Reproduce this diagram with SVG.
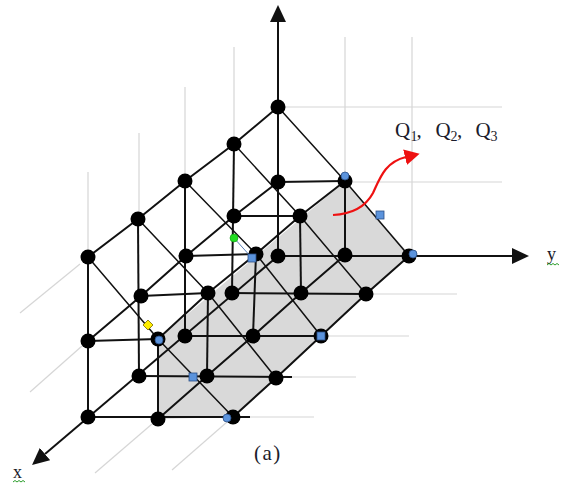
<svg xmlns="http://www.w3.org/2000/svg" width="568" height="486" viewBox="0 0 568 486">
<style>
.bg{fill:#ffffff}
.plane{fill:#d9d9d9;stroke:none}
.grid{stroke:#d6d6d6;stroke-width:1.2;fill:none}
.edge{stroke:#111;stroke-width:2;fill:none;stroke-linejoin:round}
.hyp{stroke:#111;stroke-width:1.5;fill:none;stroke-linejoin:round}
.axis{stroke:#111;stroke-width:2;fill:none}
.node{fill:#000}
.bc{fill:#5b93dc;stroke:#2b4f86;stroke-width:0.8}
.lbl{font-family:"Liberation Serif","Times New Roman",serif;fill:#1b1b2b}
.squig{stroke:#2a9d2a;stroke-width:1;fill:none}
</style>
<defs>
<marker id="ah" markerUnits="userSpaceOnUse" markerWidth="17" markerHeight="16" viewBox="0 0 17 16" refX="0" refY="8" orient="auto">
<path d="M0,0 L17,8 L0,16 Z" fill="#111"/>
</marker>
<marker id="rh" markerUnits="userSpaceOnUse" markerWidth="15" markerHeight="16" viewBox="0 0 15 16" refX="1" refY="8" orient="auto">
<path d="M0,0 L15,8 L0,16 Z" fill="#ee1111"/>
</marker>
</defs>
<rect class="bg" x="0" y="0" width="568" height="486"/>

<polygon id="plane" class="plane" points="345,181 410,255 233,417 158,419 158,339"/>

<g id="background-grid">
<line class="grid" x1="345" y1="37" x2="345" y2="181"/>
<line class="grid" x1="412" y1="37" x2="412" y2="255"/>
<line class="grid" x1="234" y1="47" x2="234" y2="144"/>
<line class="grid" x1="185" y1="87" x2="185" y2="181"/>
<line class="grid" x1="139" y1="133" x2="139" y2="219"/>
<line class="grid" x1="88" y1="172" x2="88" y2="257"/>
<line class="grid" x1="278" y1="107" x2="502" y2="107"/>
<line class="grid" x1="345" y1="182" x2="502" y2="182"/>
<line class="grid" x1="366" y1="294" x2="457" y2="294"/>
<line class="grid" x1="321" y1="336" x2="409" y2="336"/>
<line class="grid" x1="276" y1="377" x2="356" y2="377"/>
<line class="grid" x1="233" y1="417" x2="314" y2="417"/>
<line class="grid" x1="80" y1="264" x2="20" y2="313"/>
<line class="grid" x1="82" y1="346" x2="30" y2="392"/>
<line class="grid" x1="152" y1="424" x2="95" y2="473"/>
<line class="grid" x1="227" y1="422" x2="172" y2="470"/>
</g>

<g id="connectors">
<!-- axes -->
<line class="axis" x1="278" y1="256" x2="278" y2="22" marker-end="url(#ah)"/>
<line class="axis" x1="278" y1="256" x2="512" y2="256" marker-end="url(#ah)"/>
<line class="axis" x1="278" y1="256" x2="45" y2="454" marker-end="url(#ah)"/>
<!-- x-direction lines -->
<polyline class="edge" points="278,107 234,144 185,181 138,219 88,257"/>
<polyline class="edge" points="278,182 234,216 186,256 141,296 88,341"/>
<polyline class="edge" points="345,181 300,216 256,254 208,293 158,339"/>
<polyline class="edge" points="345,255 301,293 253,336 207,376 158,419"/>
<polyline class="edge" points="409,256 366,294 321,336 276,378 233,417"/>
<!-- vertical lines -->
<line class="edge" x1="234" y1="144" x2="232" y2="293"/>
<line class="edge" x1="185" y1="181" x2="185" y2="336"/>
<line class="edge" x1="138" y1="219" x2="139" y2="376"/>
<line class="edge" x1="88" y1="257" x2="88" y2="417"/>
<line class="edge" x1="345" y1="181" x2="345" y2="255"/>
<line class="edge" x1="300" y1="216" x2="301" y2="293"/>
<line class="edge" x1="256" y1="254" x2="253" y2="336"/>
<line class="edge" x1="208" y1="293" x2="207" y2="376"/>
<line class="edge" x1="158" y1="339" x2="158" y2="419"/>
<!-- horizontal lines -->
<line class="edge" x1="278" y1="182" x2="345" y2="181"/>
<line class="edge" x1="234" y1="216" x2="300" y2="216"/>
<line class="edge" x1="186" y1="256" x2="256" y2="254"/>
<line class="edge" x1="141" y1="296" x2="208" y2="293"/>
<line class="edge" x1="88" y1="341" x2="158" y2="339"/>
<line class="edge" x1="232" y1="293" x2="366" y2="294"/>
<line class="edge" x1="185" y1="336" x2="321" y2="336"/>
<line class="edge" x1="139" y1="376" x2="292" y2="377"/>
<line class="edge" x1="88" y1="417" x2="250" y2="417"/>
<!-- slanted (hypotenuse) lines -->
<polyline class="hyp" points="278,107 345,181 409,256"/>
<polyline class="hyp" points="234,144 300,216 366,294"/>
<polyline class="hyp" points="185,181 256,254 321,336"/>
<polyline class="hyp" points="138,219 208,293 276,378"/>
<polyline class="hyp" points="88,257 158,339 233,417"/>
<line x1="234" y1="238" x2="252" y2="258" stroke="#5a7fb5" stroke-width="1"/>
<!-- red arrow -->
<path d="M333,215 C352,214 366,206 373,193 C380,178 385,162 406,157" stroke="#ee1111" stroke-width="2.2" fill="none" marker-end="url(#rh)"/>
</g>

<g id="n0-0-2"><circle class="node" cx="278" cy="107" r="7.5"/></g>
<g id="n0-0-1"><circle class="node" cx="278" cy="182" r="7.5"/></g>
<g id="n0-1-1"><circle class="node" cx="345" cy="181" r="7.5"/></g>
<g id="n0-0-0"><circle class="node" cx="278" cy="256" r="7.5"/></g>
<g id="n0-1-0"><circle class="node" cx="345" cy="255" r="7.5"/></g>
<g id="n0-2-0"><circle class="node" cx="409" cy="256" r="7.5"/></g>
<g id="n1-0-2"><circle class="node" cx="234" cy="144" r="7.5"/></g>
<g id="n1-0-1"><circle class="node" cx="234" cy="216" r="7.5"/></g>
<g id="n1-1-1"><circle class="node" cx="300" cy="216" r="7.5"/></g>
<g id="n1-0-0"><circle class="node" cx="232" cy="293" r="7.5"/></g>
<g id="n1-1-0"><circle class="node" cx="301" cy="293" r="7.5"/></g>
<g id="n1-2-0"><circle class="node" cx="366" cy="294" r="7.5"/></g>
<g id="n2-0-2"><circle class="node" cx="185" cy="181" r="7.5"/></g>
<g id="n2-0-1"><circle class="node" cx="186" cy="256" r="7.5"/></g>
<g id="n2-1-1"><circle class="node" cx="256" cy="254" r="7.5"/></g>
<g id="n2-0-0"><circle class="node" cx="185" cy="336" r="7.5"/></g>
<g id="n2-1-0"><circle class="node" cx="253" cy="336" r="7.5"/></g>
<g id="n2-2-0"><circle class="node" cx="321" cy="336" r="7.5"/></g>
<g id="n3-0-2"><circle class="node" cx="138" cy="219" r="7.5"/></g>
<g id="n3-0-1"><circle class="node" cx="141" cy="296" r="7.5"/></g>
<g id="n3-1-1"><circle class="node" cx="208" cy="293" r="7.5"/></g>
<g id="n3-0-0"><circle class="node" cx="139" cy="376" r="7.5"/></g>
<g id="n3-1-0"><circle class="node" cx="207" cy="376" r="7.5"/></g>
<g id="n3-2-0"><circle class="node" cx="276" cy="378" r="7.5"/></g>
<g id="n4-0-2"><circle class="node" cx="88" cy="257" r="7.5"/></g>
<g id="n4-0-1"><circle class="node" cx="88" cy="341" r="7.5"/></g>
<g id="n4-1-1"><circle class="node" cx="158" cy="339" r="7.5"/></g>
<g id="n4-0-0"><circle class="node" cx="88" cy="417" r="7.5"/></g>
<g id="n4-1-0"><circle class="node" cx="158" cy="419" r="7.5"/></g>
<g id="n4-2-0"><circle class="node" cx="233" cy="417" r="7.5"/></g>

<g id="markers">
<circle class="bc" cx="345" cy="176" r="4"/>
<circle class="bc" cx="413" cy="254" r="4"/>
<circle class="bc" cx="159" cy="340" r="4"/>
<circle class="bc" cx="227" cy="418" r="4"/>
<rect class="bc" x="376" y="211" width="8" height="8"/>
<rect class="bc" x="317" y="332" width="8" height="8"/>
<rect class="bc" x="189" y="373" width="8" height="8"/>
<rect class="bc" x="248" y="254" width="8" height="8"/>
<circle cx="234" cy="238" r="4" fill="#22dd22" stroke="#119911" stroke-width="0.6"/>
<polygon points="148,320 153,325 148,330 143,325" fill="#ffee00" stroke="#776600" stroke-width="0.8"/>
</g>

<g id="labels">
<text class="lbl" font-size="21"><tspan x="395" y="137">Q</tspan><tspan x="410.5" y="141" font-size="14">1</tspan><tspan x="416.5" y="137">, </tspan><tspan x="435.5" y="137">Q</tspan><tspan x="450.5" y="141" font-size="14">2</tspan><tspan x="457" y="137">, </tspan><tspan x="475.5" y="137">Q</tspan><tspan x="490.5" y="141" font-size="14">3</tspan></text>
<text class="lbl" x="547" y="260" font-size="18">y</text>
<text class="lbl" x="13" y="478" font-size="18">x</text>
<text class="lbl" x="254" y="460" font-size="21" letter-spacing="1.5">(a)</text>
<path class="squig" d="M547,265 l2,-1.5 l2,1.5 l2,-1.5 l2,1.5 l2,-1.5 l2,1.5"/>
<path class="squig" d="M13,482 l2,-1.5 l2,1.5 l2,-1.5 l2,1.5 l2,-1.5 l2,1.5"/>
</g>
</svg>
